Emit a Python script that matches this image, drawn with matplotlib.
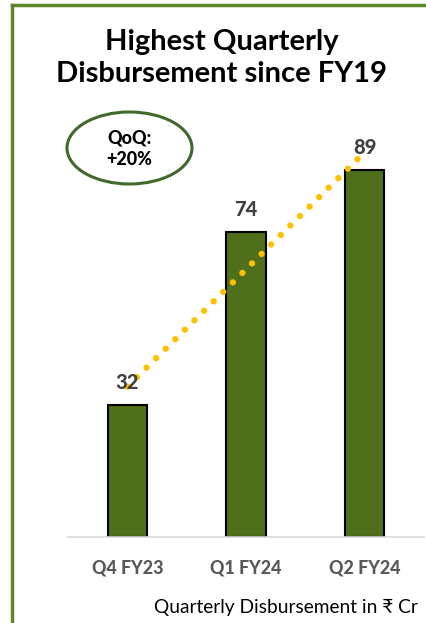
import matplotlib
matplotlib.use("Agg")
import matplotlib.pyplot as plt
from matplotlib.patches import Ellipse
from matplotlib.lines import Line2D

quarters = ["Q4 FY23", "Q1 FY24", "Q2 FY24"]
disbursement = [32, 74, 89]
title = "Highest Quarterly\nDisbursement since FY19"
qoq_text = "QoQ:\n+20%"
footnote = "Quarterly Disbursement in \u20b9 Cr"

# trend arrow drawn as a dotted line, in data units (bar index, value)
trend_x = [0.0, 1.95]
trend_y = [36.5, 92.0]

plt.rcParams['font.family'] = ['Lato', 'DejaVu Sans']

W, H = 426, 623
fig = plt.figure(figsize=(W / 100, H / 100), dpi=100)

#chart area: baseline at y=537px, bars centred 119px apart
ax = fig.add_axes([68 / W, (H - 537) / H, 356 / W, 412 / H])
x = list(range(len(quarters)))
ax.bar(x, disbursement, width=0.33, color="#4F6F1A", edgecolor="black", linewidth=1.5, zorder=2)
ax.set_xlim(-0.5, 2.5)
ax.set_ylim(0, 100)

for xi, v in zip(x, disbursement):
    ax.text(xi, v + 3.3, str(v), ha="center", va="bottom", fontsize=14.5,
            fontweight=900, color="#404040", zorder=4)

ax.plot(trend_x, trend_y, color="#FFC000", linewidth=4.6,
        linestyle=(0, (0.01, 2.1)), dash_capstyle="round", zorder=3)

for s in ["top", "right", "left"]:
    ax.spines[s].set_visible(False)
ax.spines["bottom"].set_color("#D9D9D9")
ax.spines["bottom"].set_linewidth(1.2)
ax.set_yticks([])
ax.set_xticks(x)
ax.set_xticklabels(quarters, fontsize=12.9, fontweight=900, color="#595959")
ax.tick_params(axis="x", length=0, pad=16)

#title and notes in figure pixel coordinates
fig.text(222 / W, 1 - 58 / H, title, ha="center", va="center", fontsize=21,
         fontweight="bold", color="black", linespacing=1.25)
fig.text(418 / W, 1 - 607 / H, footnote, ha="right", va="center", fontsize=13.8, color="black")

#QoQ callout
ell = Ellipse((129.5 / W, 1 - 148 / H), 125 / W, 72 / H, transform=fig.transFigure,
              facecolor="white", edgecolor="#3E6B2A", linewidth=2.2)
fig.patches.append(ell)
fig.text(129.5 / W, 1 - 149 / H, qoq_text, ha="center", va="center", fontsize=13,
         fontweight=900, color="black", linespacing=1.3)

#green frame along the top and left edges
frame_color = "#5E862C"
fig.add_artist(Line2D([12 / W, 1], [1 - 5 / H, 1 - 5 / H], transform=fig.transFigure,
                      color=frame_color, linewidth=2.5))
fig.add_artist(Line2D([12 / W, 12 / W], [0, 1 - 5 / H], transform=fig.transFigure,
                      color=frame_color, linewidth=2.5))

fig.savefig("out.png", dpi=100)
